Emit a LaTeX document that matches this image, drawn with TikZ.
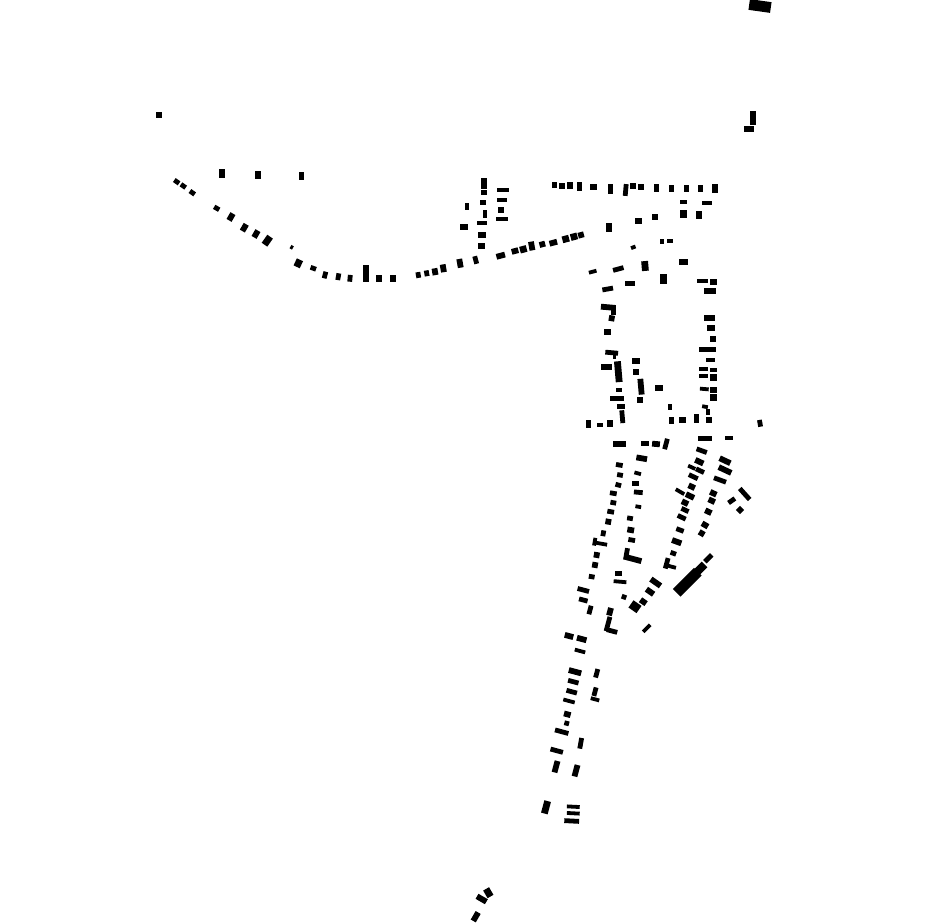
\documentclass[tikz,border=0pt]{standalone}
\tikzset{bldg/.style={fill=black}}
\begin{document}
\begin{tikzpicture}[x=1pt,y=-1pt]
        \useasboundingbox (0,0) rectangle (930,924);
        %% buildings: x/y/width/height/angle
        \foreach \x/\y/\w/\h/\r in {
            159/115/6/6/0, 176.7/181.7/5/4/-35, 183.3/186/5/4/-35, 192.3/192.7/5/4/-35,
            221.7/173.3/5/8/0, 258.3/175/5/7/0, 301.7/176/4/7/0,
            216.7/208.3/5/4/-30, 231/217/5/7/-30, 244.3/227.7/5/7/-30, 256/234/5/7/-30,
            267.3/240.7/6/9/-35, 291.7/247.3/2/3/-30, 298.3/263.3/6/7/-25, 313.3/268.3/5/4/-20,
            325/275/4/6/-15, 338.3/276.7/4/6/-10, 350/278.3/4/6/-5, 366/273.3/5/16/0,
            379.3/278.3/5/6/0, 393.3/278.3/5/6/0, 418.3/275/4/5/10, 426.7/273.3/4/5/10,
            435/271.7/5/6/10, 443.3/268.3/5/7/10, 460/263.3/5/8/10, 475.7/260/4/7/15,
            466.7/206.7/3/6/0, 464.3/227.3/7/5/0}
            \fill[bldg,rotate around={\r:(\x,\y)}] (\x-\w/2-0.4,\y-\h/2-0.4) rectangle (\x+\w/2+0.4,\y+\h/2+0.4);
        %% north row and road
        \foreach \x/\y/\w/\h/\r in {
            484/183.3/6/10/0, 484/192.3/5/4/0, 503.3/190/11/3/0, 483.3/202.3/5/4/0,
            502.3/200/9/4/0, 485/214.3/4/7/0, 501/210/5/5/0, 501.7/219/11/4/0,
            481.7/223.3/9/3/0, 481.7/235/7/5/0, 481.7/246/6/5/0,
            500.7/255.7/8/5/15, 515/251/6/5/15, 523.3/249.3/6/6/15, 531.7/246/5/8/10,
            542.3/244.3/5/5/15, 553.3/242.7/7/5/15, 565.7/239/6/6/15, 574/236.7/6/6/15,
            581/235/5/5/15,
            554.3/185/4/6/0, 562.3/186/5/6/0, 570/185.7/6/6/0, 579.3/186.7/4/8/0,
            593.3/186.7/6/5/0, 610.7/189/4/9/0, 625.7/190/4/11/-5, 633.3/186/5/5/0,
            641/186.7/5/5/0, 656.7/188.3/4/7/0, 671.7/188.3/4/6/0, 686.7/188.3/4/6/0,
            700.7/188.3/4/6/0, 715/188.3/5/8/0,
            683.7/202.3/6/3/0, 706.7/202.7/9/3/0, 683.3/214.3/6/7/0, 699.3/215/5/7/0,
            655/216.7/6/5/0, 638.3/221/6/6/0, 609/227.7/5/8/0, 633.3/247.3/4/3/20,
            661.7/241.7/3/4/0, 670/240.7/5/3/0,
            592.7/271.7/7/3/15, 618.3/269/10/4/15, 645/266/6/9/5, 683.3/261.7/8/5/0,
            630/283.3/9/4/0, 607.7/289/10/4/10, 663.3/279/6/10/0, 702.3/281/10/3/0,
            713.3/282/6/6/0, 710/291/11/5/0}
            \fill[bldg,rotate around={\r:(\x,\y)}] (\x-\w/2-0.4,\y-\h/2-0.4) rectangle (\x+\w/2+0.4,\y+\h/2+0.4);
        %% middle block
        \foreach \x/\y/\w/\h/\r in {
            608.3/307.3/14/5/-5, 613.3/311/4/7/0, 611.7/318.3/5/5/-10, 607.3/331.7/6/5/0,
            611.7/352.7/12/4/-5, 614.5/356/3/6/0, 606.7/367.3/10/5/0, 618.3/371.7/6/20/5,
            636/361/8/5/0, 636/371.7/6/5/0, 641/386.7/5/15/5, 640/400/5/5/0,
            619.3/390/5/4/0, 617.3/398.3/13/4/0, 620.7/406.7/7/4/0, 622.3/416.7/4/12/5,
            659/388.3/7/5/0, 588.3/424/4/7/0, 600/425/5/4/0, 610/423.3/6/6/0,
            670/407.3/4/5/0, 671.7/420.7/4/6/0, 682.7/420/6/6/0, 696.7/418.3/4/8/0,
            709.3/420/5/5/0, 705/406.7/5/3/-10, 708.3/412/3/5/0,
            709.3/318.3/10/5/0, 711/327.7/8/5/0, 712.7/339/5/5/0, 707.3/349.3/16/4/0,
            710.7/360/8/4/0, 703.3/369.3/8/3/0, 713.3/370/6/3/0, 703.3/376/8/3/0,
            713.3/377.3/6/6/0, 704.3/389/8/3/-5, 713.3/390/6/5/0, 713.3/397.7/6/6/0,
            760/423.3/4/6/10,
            619.3/444/12/5/0, 645/443.3/8/4/0, 656/444/7/5/-5, 666/444/4/10/-15,
            705/438.3/13/4/0, 729.3/437.7/7/3/0}
            \fill[bldg,rotate around={\r:(\x,\y)}] (\x-\w/2-0.4,\y-\h/2-0.4) rectangle (\x+\w/2+0.4,\y+\h/2+0.4);
        %% southern streets
        \foreach \x/\y/\w/\h/\r in {
            619.3/465/6/4/-10, 641.7/458.3/10/5/-10, 620/475/5/4/-10, 618.3/485/5/4/-15,
            637.7/473.3/6/3/-15, 635.3/483.3/6/4/0, 638.3/492.3/8/4/-5, 613.3/493.3/6/4/-10,
            613.3/502.7/5/4/-10, 610.7/511.7/6/4/-10, 638.3/506.7/5/3/-10, 630/518.3/5/4/-10,
            608.3/521.7/5/5/-10, 630.7/530/6/5/-10, 631.7/540/6/4/-10, 603.3/533.3/4/5/-10,
            601.3/543.7/11/3/-10, 594.7/541.7/3/7/-10, 626.5/554/4/11/-10, 633.3/559/16/5/-15,
            596.7/555/5/5/-10, 595/565/5/5/-10, 618.3/573.3/6/4/0, 620/581.7/12/3/-5,
            591.7/576.7/5/4/-10, 583.3/590/11/4/-15, 583.3/600/8/4/-15, 590/610/4/8/-15,
            610/611.7/5/7/-15, 608/624/4/14/-15, 612/631/10/4/-15,
            624/597/4/4/-20, 635/606.7/9/8/-35, 643.3/601.7/6/5/-35, 650/591.7/8/5/-35,
            655.7/582.5/11/5/-35, 646.7/628.3/3/9/-45,
            701.7/450.7/10/4/-20, 699.3/461.7/8/5/-25, 700/470.7/8/4/-25, 691.7/467.3/7/3/-25,
            693.3/476.7/9/4/-25, 691.7/486.7/6/5/-25, 680/491.7/9/3/-30, 690/496/8/5/-25,
            685/502.7/6/5/-25, 685/510/7/4/-25, 681.7/517.3/8/4/-25, 680/530/7/4/-20,
            676.7/541.7/9/5/-20, 673.3/553.3/5/4/-20, 666.7/563.3/4/10/-15, 671.7/566.7/8/3/-15,
            725/460.7/11/5/-25, 725/470/13/5/-25, 720/480/12/4/-20, 713.3/493.3/6/5/-25,
            711.7/500.7/6/5/-25, 708.3/511.7/6/5/-25, 705/525/6/5/-30, 701.7/533.3/5/5/-30,
            744.7/494/14/4/-48, 731.7/500.7/7/4/35, 740/510/5/5/45,
            687.3/582.3/29/10/45, 700/569/12/7/45, 708.3/558.3/9/4/45}
            \fill[bldg,rotate around={\r:(\x,\y)}] (\x-\w/2-0.4,\y-\h/2-0.4) rectangle (\x+\w/2+0.4,\y+\h/2+0.4);
        %% road to the south
        \foreach \x/\y/\w/\h/\r in {
            569/636/8/5/-15, 581.7/639/9/5/-15, 580/651/10/3/-15,
            575/671.7/12/5/-15, 573.3/681.7/10/4/-15, 571.7/691.7/10/4/-15, 569/701/11/3/-15,
            567.3/714.3/6/5/-15, 566.7/723.3/4/4/-15, 561.7/731.7/13/4/-15, 556.7/750.7/12/4/-15,
            556/766.7/5/11/-15, 576/770.7/5/11/-15, 546/807.3/6/12/-15,
            573.3/806.7/12/3/-3, 573.3/813.3/12/3/-3, 571.7/821/14/4/-3,
            596.7/673.3/4/8/-15, 595/691.7/4/8/-15, 595/699.3/8/3/-15, 580.7/743.3/4/10/-10,
            760/6/21/10/-8, 753/118/5/14/0, 749/129/10/6/0,
            488.3/892.7/8/6/-60, 481.7/899/10/5/-30, 475.7/916.7/5/9/-30}
            \fill[bldg,rotate around={\r:(\x,\y)}] (\x-\w/2-0.4,\y-\h/2-0.4) rectangle (\x+\w/2+0.4,\y+\h/2+0.4);
    \end{tikzpicture}
\end{document}
